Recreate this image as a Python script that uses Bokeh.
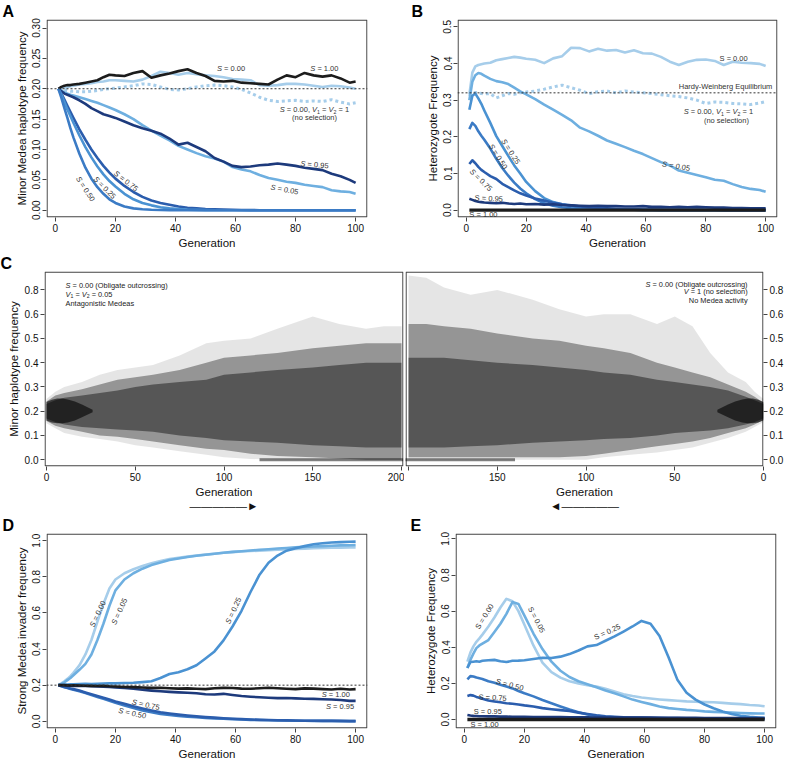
import numpy as np
from bokeh.plotting import figure
from bokeh.layouts import column, row
from bokeh.models import Range1d, FixedTicker, NumeralTickFormatter, Span
from bokeh.core.properties import value
from bokeh.embed import file_html
from bokeh.resources import INLINE

FONT = "Liberation Sans"

# ---------------- data ----------------
GEN = [1, 2, 3, 4, 5, 6, 8, 10, 12, 14,
       16, 18, 20, 23, 26, 29, 32, 35, 38, 41,
       44, 47, 50, 53, 56, 59, 62, 65, 68, 71,
       74, 77, 80, 83, 86, 89, 92, 95, 98, 100]
XTICKS = [0, 20, 40, 60, 80, 100]
REF_A = 0.20
HWE = 0.32
REF_D = 0.20

# Panel A: minor Medea haplotype frequency
A_S000 = [.200, .201, .202, .203, .204, .205, .207, .208, .209, .211,
          .212, .214, .214, .213, .212, .215, .221, .228, .226, .223,
          .226, .224, .222, .221, .219, .216, .215, .214, .206, .205,
          .206, .208, .208, .207, .205, .203, .205, .204, .202, .200]
A_NOSEL = [.200, .199, .198, .197, .196, .196, .195, .195, .196, .197,
           .199, .200, .201, .203, .205, .208, .207, .203, .199, .198,
           .200, .203, .205, .206, .205, .203, .199, .193, .186, .181,
           .179, .180, .181, .179, .180, .179, .182, .178, .175, .177]
A_S005 = [.200, .197, .194, .192, .190, .189, .186, .183, .180, .177,
          .173, .169, .165, .158, .150, .140, .131, .123, .115, .106,
          .100, .094, .089, .085, .080, .071, .067, .064, .058, .053,
          .050, .047, .045, .042, .040, .038, .033, .031, .030, .027]
A_S025 = [.200, .190, .178, .166, .155, .144, .123, .104, .087, .072,
          .059, .048, .039, .027, .018, .012, .008, .005, .003, .002,
          .001, .0005, .0002, 0, 0, 0, 0, 0, 0, 0,
          0, 0, 0, 0, 0, 0, 0, 0, 0, 0]
A_S050 = [.200, .185, .168, .152, .135, .120, .093, .070, .052, .038,
          .027, .018, .012, .006, .003, .0015, .0007, .0003, .0001, 0,
          0, 0, 0, 0, 0, 0, 0, 0, 0, 0,
          0, 0, 0, 0, 0, 0, 0, 0, 0, 0]
A_S075 = [.200, .192, .182, .172, .162, .152, .133, .116, .100, .086,
          .073, .062, .052, .040, .030, .022, .016, .012, .009, .006,
          .004, .003, .002, .0015, .001, .0007, .0004, .0002, 0, 0,
          0, 0, 0, 0, 0, 0, 0, 0, 0, 0]
A_S095 = [.200, .196, .192, .190, .188, .186, .181, .175, .168, .163,
          .158, .155, .152, .146, .140, .135, .131, .126, .118, .108,
          .111, .104, .097, .086, .080, .073, .071, .072, .074, .075,
          .077, .075, .073, .070, .068, .066, .060, .056, .050, .045]
A_S100 = [.200, .203, .205, .206, .206, .207, .208, .210, .212, .214,
          .219, .223, .222, .221, .226, .229, .218, .222, .225, .229,
          .232, .226, .221, .213, .212, .213, .210, .209, .208, .207,
          .215, .222, .219, .226, .222, .220, .222, .217, .210, .212]

# Panel B: heterozygote frequency
B_S000 = [.315, .375, .392, .396, .398, .400, .402, .409, .412, .415,
          .418, .416, .413, .410, .401, .414, .420, .443, .442, .433,
          .440, .435, .437, .430, .436, .428, .427, .418, .405, .396,
          .405, .410, .411, .407, .396, .405, .402, .401, .399, .393]
B_NOSEL = [.310, .318, .321, .320, .318, .317, .318, .306, .312, .318,
           .316, .320, .322, .325, .330, .336, .341, .334, .327, .318,
           .323, .325, .320, .325, .322, .320, .318, .315, .312, .310,
           .306, .300, .291, .295, .294, .291, .290, .288, .292, .296]
B_S005 = [.300, .350, .368, .374, .372, .367, .358, .352, .349, .344,
          .334, .324, .316, .303, .288, .274, .260, .245, .225, .215,
          .203, .190, .181, .172, .162, .153, .142, .131, .122, .108,
          .102, .096, .090, .083, .080, .071, .063, .058, .055, .050]
B_S025 = [.274, .312, .318, .305, .290, .272, .238, .202, .175, .148,
          .122, .100, .077, .052, .033, .022, .016, .011, .008, .006,
          .004, .003, .002, .002, .001, .001, .001, 0, 0, 0,
          0, 0, 0, 0, 0, 0, 0, 0, 0, 0]
B_S050 = [.221, .238, .230, .215, .203, .192, .168, .140, .115, .094,
          .075, .059, .046, .030, .019, .012, .008, .005, .004, .003,
          .002, .002, .001, .001, .001, 0, 0, 0, 0, 0,
          0, 0, 0, 0, 0, 0, 0, 0, 0, 0]
B_S075 = [.126, .136, .128, .118, .110, .104, .093, .085, .072, .063,
          .054, .046, .040, .032, .026, .020, .016, .013, .010, .008,
          .006, .005, .004, .003, .003, .002, .002, .002, .001, .001,
          .001, .001, .001, .001, 0, 0, 0, 0, 0, 0]
B_S095 = [.031, .028, .025, .023, .022, .021, .020, .019, .020, .018,
          .017, .018, .016, .017, .015, .016, .014, .013, .012, .011,
          .012, .011, .011, .010, .010, .011, .009, .009, .008, .009,
          .008, .009, .008, .007, .007, .006, .006, .005, .005, .005]
B_S100 = [0, 0, 0, 0, 0, 0, 0, 0, 0, 0,
          0, 0, 0, 0, 0, 0, 0, 0, 0, 0,
          0, 0, 0, 0, 0, 0, 0, 0, 0, 0,
          0, 0, 0, 0, 0, 0, 0, 0, 0, 0]

# Panel C: envelopes of the simulated trajectory clouds
C_X = [0, 5, 10, 20, 30, 40, 50, 60, 75, 90, 100, 115, 130, 150, 165, 180, 190, 200]
CL_OUT_LO = [.15, .13, .11, .095, .085, .075, .06, .05, .035, .02, .01, .003, 0, 0, 0, 0, 0, 0]
CL_OUT_HI = [.25, .28, .30, .32, .35, .37, .38, .39, .43, .48, .49, .50, .54, .59, .56, .54, .55, .55]
CL_MAIN_LO = [.16, .14, .13, .115, .10, .095, .085, .075, .06, .045, .04, .025, .015, .01, .005, 0, 0, 0]
CL_MAIN_HI = [.24, .265, .275, .29, .31, .33, .34, .35, .37, .40, .42, .43, .44, .46, .47, .48, .48, .48]
CL_CORE_LO = [.17, .155, .145, .135, .13, .125, .12, .115, .10, .09, .08, .075, .07, .06, .055, .05, .05, .05]
CL_CORE_HI = [.23, .245, .255, .265, .275, .285, .30, .31, .32, .33, .35, .36, .37, .38, .39, .40, .40, .40]
CR_OUT_LO = [.155, .135, .115, .09, .07, .05, .04, .03, .02, .01, 0, 0, 0, 0, 0, 0, 0, 0]
CR_OUT_HI = [.25, .28, .32, .36, .44, .55, .59, .56, .60, .60, .59, .62, .66, .70, .68, .71, .75, .76]
CR_MAIN_LO = [.165, .145, .13, .11, .09, .075, .065, .055, .04, .025, .015, .01, .01, .01, .01, .01, .01, .01]
CR_MAIN_HI = [.235, .26, .28, .31, .34, .36, .38, .40, .44, .46, .47, .49, .50, .52, .54, .55, .56, .56]
CR_CORE_LO = [.17, .155, .145, .13, .12, .115, .11, .10, .09, .085, .08, .075, .07, .06, .055, .05, .05, .05]
CR_CORE_HI = [.23, .245, .26, .285, .30, .31, .32, .33, .35, .36, .37, .38, .39, .40, .41, .42, .42, .42]
C_BLOB_X = [0, 3, 6, 9, 12, 16, 20, 26]
C_BLOB_LO = [.162, .153, .150, .150, .153, .162, .175, .196]
C_BLOB_HI = [.238, .247, .252, .252, .248, .240, .228, .206]
CL_ZERO_X = [120, 201]
CR_ZERO_X = [140, 202]
C_ZERO_Y = [0.0, 0.0]
C_YTICKS = [0.0, 0.1, 0.2, 0.3, 0.4, 0.5, 0.6, 0.7]
C_XTICKS = [0, 50, 100, 150, 200]

# Panel D: strong Medea invader frequency
D_S000 = [.200, .210, .222, .235, .250, .268, .310, .370, .450, .552,
          .650, .735, .785, .820, .842, .860, .875, .888, .898, .905,
          .912, .918, .923, .928, .933, .937, .940, .943, .945, .948,
          .950, .952, .955, .956, .958, .960, .962, .962, .963, .963]
D_S005 = [.200, .207, .216, .228, .240, .255, .285, .318, .370, .450,
          .540, .640, .725, .785, .820, .845, .865, .880, .893, .902,
          .910, .917, .922, .928, .933, .938, .942, .946, .950, .953,
          .957, .960, .963, .966, .968, .970, .972, .974, .975, .976]
D_S025 = [.200, .202, .203, .204, .205, .205, .206, .207, .206, .208,
          .209, .210, .210, .212, .213, .217, .222, .240, .262, .272,
          .288, .310, .348, .387, .448, .525, .612, .716, .812, .878,
          .918, .945, .958, .970, .980, .986, .990, .992, .994, .995]
D_S050 = [.200, .194, .189, .184, .179, .175, .166, .156, .145, .135,
          .124, .113, .102, .088, .073, .060, .050, .041, .035, .030,
          .025, .022, .019, .016, .014, .012, .010, .008, .007, .006,
          .005, .004, .003, .003, .002, .002, .002, .001, .001, .001]
D_S075 = [.200, .195, .190, .186, .182, .178, .170, .160, .150, .140,
          .130, .120, .110, .097, .083, .071, .060, .050, .043, .037,
          .032, .027, .023, .020, .017, .014, .012, .010, .008, .007,
          .006, .005, .004, .003, .003, .002, .002, .002, .001, .001]
D_S095 = [.200, .199, .198, .197, .197, .196, .195, .195, .194, .193,
          .192, .190, .188, .184, .180, .175, .170, .166, .163, .160,
          .158, .155, .150, .148, .152, .146, .140, .136, .133, .130,
          .128, .129, .127, .125, .124, .122, .121, .118, .113, .113]
D_S100 = [.200, .201, .200, .199, .198, .199, .198, .197, .196, .195,
          .196, .194, .193, .190, .189, .187, .185, .186, .183, .181,
          .182, .180, .178, .183, .185, .184, .181, .180, .183, .186,
          .183, .180, .178, .182, .181, .178, .176, .180, .176, .178]

# Panel E: heterozygote frequency
E_S000 = [.320, .370, .405, .430, .449, .470, .515, .565, .620, .668,
          .655, .600, .525, .410, .315, .262, .232, .212, .200, .190,
          .182, .170, .155, .140, .130, .122, .116, .111, .107, .104,
          .100, .098, .096, .095, .092, .088, .085, .080, .077, .073]
E_S005 = [.285, .330, .365, .395, .410, .420, .440, .485, .530, .585,
          .650, .640, .575, .476, .390, .320, .270, .235, .212, .195,
          .178, .160, .145, .128, .110, .097, .085, .072, .063, .058,
          .053, .050, .045, .042, .040, .038, .036, .034, .033, .033]
E_S025 = [.285, .318, .320, .322, .320, .325, .328, .330, .322, .318,
          .325, .326, .328, .335, .342, .340, .348, .362, .382, .405,
          .412, .436, .460, .487, .515, .546, .530, .462, .345, .218,
          .148, .110, .083, .062, .044, .030, .021, .015, .011, .009]
E_S050 = [.222, .240, .238, .232, .228, .224, .212, .203, .192, .182,
          .172, .158, .145, .128, .108, .090, .072, .055, .040, .028,
          .020, .015, .012, .010, .008, .007, .006, .005, .005, .004,
          .004, .004, .003, .003, .003, .003, .002, .002, .002, .002]
E_S075 = [.130, .135, .132, .125, .120, .115, .105, .100, .095, .090,
          .087, .083, .078, .072, .063, .057, .052, .047, .038, .030,
          .023, .018, .015, .012, .011, .010, .009, .009, .008, .008,
          .007, .007, .007, .006, .006, .006, .006, .005, .005, .005]
E_S095 = [.025, .022, .020, .019, .018, .018, .017, .017, .016, .016,
          .015, .015, .015, .014, .014, .013, .013, .012, .012, .012,
          .011, .011, .011, .010, .010, .010, .010, .009, .009, .009,
          .009, .009, .008, .008, .008, .008, .008, .008, .008, .008]
E_S100 = [0, 0, 0, 0, 0, 0, 0, 0, 0, 0,
          0, 0, 0, 0, 0, 0, 0, 0, 0, 0,
          0, 0, 0, 0, 0, 0, 0, 0, 0, 0,
          0, 0, 0, 0, 0, 0, 0, 0, 0, 0]

# ---------------- styles ----------------
COL = {"0.00": "#a6cdea", "0.05": "#6eafe0", "0.25": "#4a92d2", "0.50": "#3b7bc5",
       "0.75": "#2b5dad", "0.95": "#1d3a7c", "1.00": "#1c1c1c"}
LW = 2.6
TXT = "#333333"
FRAME = "#444444"

CW = {' ': .278, '=': .584, '.': .278, ',': .278, '(': .333, ')': .333, '-': .333,
      'S': .667, 'V': .667, 'A': .667, 'M': .833, 'N': .722, 'O': .778, 'H': .722,
      'W': .944, 'E': .667,
      'a': .556, 'b': .556, 'c': .5, 'd': .556, 'e': .556, 'f': .278, 'g': .556,
      'h': .556, 'i': .222, 'j': .222, 'k': .5, 'l': .222, 'm': .833, 'n': .556,
      'o': .556, 'p': .556, 'q': .556, 'r': .333, 's': .5, 't': .278, 'u': .556,
      'v': .5, 'w': .722, 'x': .5, 'y': .5, 'z': .5}


def tw(s, size):
    return sum(CW.get(c, 0.556) for c in s) * size


def rich(p, x, y, pieces, size=7.5, angle=0.0, align="center", color=TXT):
    a = np.deg2rad(angle)
    ca, sa = np.cos(a), np.sin(a)
    widths = [tw(t, size * sc) for (t, st, sc, dy) in pieces]
    W = sum(widths)
    d = {"center": -W / 2, "left": 0.0, "right": -W}[align]
    for (t, st, sc, dy), w in zip(pieces, widths):
        fs = size * sc
        core = t.strip()
        if core:
            lead = tw(t[: len(t) - len(t.lstrip())], fs)
            c = d + lead + tw(core, fs) / 2
            ox = c * ca + dy * sa
            oy = -c * sa + dy * ca
            p.text(x=[x], y=[y], text=[core], angle=a, x_offset=ox, y_offset=oy,
                   text_align="center", text_baseline="middle", text_font=value(FONT),
                   text_font_style=st, text_font_size=f"{fs:.2f}px", text_color=color)
        d += w


def slab(p, x, y, rest, angle=0.0, size=7.5):
    rich(p, x, y, [("S", "italic", 1, 0), (" = " + rest, "normal", 1, 0)], size=size, angle=angle)


def nosel(p, x, y, x2, y2, size=7.5):
    rich(p, x, y, [("S", "italic", 1, 0), (" = 0.00, ", "normal", 1, 0), ("V", "italic", 1, 0),
                   ("1", "normal", 0.7, 2), (" = ", "normal", 1, 0), ("V", "italic", 1, 0),
                   ("2", "normal", 0.7, 2), (" = 1", "normal", 1, 0)], size=size)
    rich(p, x2, y2, [("(no selection)", "normal", 1, 0)], size=size)


def fsize(spec):
    return spec["w"] - spec["ml"] - spec["mr"], spec["h"] - spec["mt"] - spec["mb"]


def px2data(spec, cx, cy):
    fw, fh = fsize(spec)
    x0, x1 = spec["xr"]
    y0, y1 = spec["yr"]
    return x0 + (cx - spec["ml"]) / fw * (x1 - x0), y1 - (cy - spec["mt"]) / fh * (y1 - y0)


def make_fig(spec, letter, lx, xticks, yticks, yfmt, xlabel, ylabel, yloc="left", yvert=True):
    p = figure(width=spec["w"], height=spec["h"], x_range=Range1d(*spec["xr"]),
               y_range=Range1d(*spec["yr"]), output_backend="svg", toolbar_location=None,
               y_axis_location=yloc, min_border_left=spec["ml"], min_border_right=spec["mr"],
               min_border_top=spec["mt"], min_border_bottom=spec["mb"])
    p.xgrid.visible = False
    p.ygrid.visible = False
    p.outline_line_color = None
    p.background_fill_color = "white"
    p.border_fill_color = "white"
    if letter:
        p.title.text = letter
        p.title.align = "left"
        p.title.offset = lx - spec["ml"]
        p.title.standoff = 0
        p.title.text_font = FONT
        p.title.text_font_size = "16px"
        p.title.text_font_style = "bold"
        p.title.text_color = "black"
    p.xaxis.ticker = FixedTicker(ticks=xticks, minor_ticks=[])
    p.yaxis.ticker = FixedTicker(ticks=yticks, minor_ticks=[])
    p.xaxis.formatter = NumeralTickFormatter(format="0")
    p.yaxis.formatter = NumeralTickFormatter(format=yfmt)
    for ax in list(p.xaxis) + list(p.yaxis):
        ax.axis_line_color = None
        ax.major_tick_out = 4
        ax.major_tick_in = 0
        ax.minor_tick_line_color = None
        ax.major_tick_line_color = FRAME
        ax.major_label_text_font = FONT
        ax.major_label_text_font_size = "10px"
        ax.major_label_text_color = "#111111"
        ax.major_label_standoff = 2
        ax.axis_label_text_font = FONT
        ax.axis_label_text_font_size = "11.5px"
        ax.axis_label_text_font_style = "normal"
        ax.axis_label_text_color = "#111111"
        ax.axis_label_standoff = 2
    if xlabel:
        p.xaxis.axis_label = xlabel
    if ylabel:
        p.yaxis.axis_label = ylabel
    if yvert:
        p.yaxis.major_label_orientation = "vertical"
    # plot box, drawn half a pixel inside the frame edges
    fw, fh = fsize(spec)
    x0, x1 = spec["xr"]
    y0, y1 = spec["yr"]
    dx = (x1 - x0) / fw * 0.6
    dy = (y1 - y0) / fh * 0.6
    p.line([x0 + dx, x1 - dx, x1 - dx, x0 + dx, x0 + dx],
           [y0 + dy, y0 + dy, y1 - dy, y1 - dy, y0 + dy],
           line_color=FRAME, line_width=1.2)
    return p


def ln(p, y, key, dash="solid", width=LW):
    p.line(GEN, y, line_color=COL[key], line_width=width, line_dash=dash, line_join="round")


XR = (-2.96, 103.96)
SA = dict(w=390, h=252, ml=46, mr=23, mt=18, mb=35, xr=XR, yr=(-0.012, 0.314))
SB = dict(w=396, h=252, ml=67, mr=9, mt=18, mb=35, xr=XR, yr=(-0.02, 0.52))
SCL = dict(w=404, h=262, ml=44, mr=1, mt=18, mb=46, xr=(-1.1, 201.1), yr=(-0.028, 0.776))
SCR = dict(w=382, h=262, ml=1, mr=20, mt=18, mb=46, xr=(201.7, 0.0), yr=(-0.028, 0.776))
SD = dict(w=390, h=250, ml=46, mr=23, mt=18, mb=36, xr=XR, yr=(-0.04, 1.04))
SE = dict(w=396, h=250, ml=65, mr=10, mt=18, mb=36, xr=XR, yr=(-0.05, 1.03))

# ---------------- Panel A ----------------
pA = make_fig(SA, "A", 2, XTICKS, [0.0, 0.05, 0.10, 0.15, 0.20, 0.25, 0.30], "0.00",
              "Generation", "Minor Medea haplotype frequency")
pA.add_layout(Span(location=REF_A, dimension="width", line_color="#333333", line_dash="2 2", line_width=1))
ln(pA, A_NOSEL, "0.00", dash="3 3", width=3)
ln(pA, A_S000, "0.00")
ln(pA, A_S005, "0.05")
ln(pA, A_S095, "0.95")
ln(pA, A_S100, "1.00")
ln(pA, A_S075, "0.75")
ln(pA, A_S025, "0.25")
ln(pA, A_S050, "0.50")
slab(pA, 58.5, 0.234, "0.00")
slab(pA, 89.6, 0.233, "1.00")
nosel(pA, 86.3, 0.165, 86.3, 0.152)
slab(pA, 86.3, 0.075, "0.95", -5)
slab(pA, 76.3, 0.034, "0.05", -10)
slab(pA, 23.5, 0.048, "0.75", -38)
slab(pA, 16.4, 0.037, "0.25", -45)
slab(pA, 10.0, 0.035, "0.50", -57)

# ---------------- Panel B ----------------
pB = make_fig(SB, "B", 21, XTICKS, [0.0, 0.1, 0.2, 0.3, 0.4, 0.5], "0.0",
              "Generation", "Heterozygote Frequency")
pB.add_layout(Span(location=HWE, dimension="width", line_color="#333333", line_dash="2 2", line_width=1))
ln(pB, B_NOSEL, "0.00", dash="3 3", width=3)
ln(pB, B_S000, "0.00")
ln(pB, B_S005, "0.05")
ln(pB, B_S025, "0.25")
ln(pB, B_S050, "0.50")
ln(pB, B_S075, "0.75")
ln(pB, B_S095, "0.95")
ln(pB, B_S100, "1.00", width=3.2)
rich(pB, 89.3, 0.415, [("S = 0.00", "normal", 1, 0)])
rich(pB, 86.6, 0.338, [("Hardy-Weinberg Equilibrium", "normal", 1, 0)])
nosel(pB, 84.2, 0.269, 86.9, 0.245)
slab(pB, 70.1, 0.12, "0.05", -10)
slab(pB, 14.8, 0.160, "0.25", -57)
slab(pB, 10.6, 0.146, "0.50", -58)
slab(pB, 4.9, 0.082, "0.75", -45)
rich(pB, 7.5, 0.032, [("S = 0.95", "normal", 1, 0)], angle=-3)
rich(pB, 5.7, -0.013, [("S = 1.00", "normal", 1, 0)])


# ---------------- Panel C ----------------
def cloud(p, lo_o, hi_o, lo_m, hi_m, lo_c, hi_c, zx):
    p.varea(x=C_X, y1=lo_o, y2=hi_o, fill_color="black", fill_alpha=0.10)
    p.varea(x=C_X, y1=lo_m, y2=hi_m, fill_color="black", fill_alpha=0.35)
    p.varea(x=C_X, y1=lo_c, y2=hi_c, fill_color="black", fill_alpha=0.42)
    p.varea(x=C_BLOB_X, y1=C_BLOB_LO, y2=C_BLOB_HI, fill_color="black", fill_alpha=0.6)
    p.line(zx, C_ZERO_Y, line_color="black", line_alpha=0.5, line_width=3)


ARROW_R = "\u2014\u2014\u2014\u2014\u2014\u25BA"
ARROW_L = "\u25C4\u2014\u2014\u2014\u2014\u2014"

pCL = make_fig(SCL, "C", 0, C_XTICKS, C_YTICKS, "0.0", "Generation\n" + ARROW_R,
               "Minor haplotype frequency", yvert=False)
pCL.yaxis.major_label_overrides = {0.7: "0.8"}
cloud(pCL, CL_OUT_LO, CL_OUT_HI, CL_MAIN_LO, CL_MAIN_HI, CL_CORE_LO, CL_CORE_HI, CL_ZERO_X)
for pcs, cy in [
        ([("S", "italic", 1, 0), (" = 0.00 (Obligate outcrossing)", "normal", 1, 0)], 32.3),
        ([("V", "italic", 1, 0), ("1", "normal", 0.7, 2), (" = ", "normal", 1, 0), ("V", "italic", 1, 0),
          ("2", "normal", 0.7, 2), (" = 0.05", "normal", 1, 0)], 41.3),
        ([("Antagonistic Medeas", "normal", 1, 0)], 50.3)]:
    x, y = px2data(SCL, 65, cy)
    rich(pCL, x, y, pcs, size=7.4, align="left", color="#222222")

pCR = make_fig(SCR, None, 0, C_XTICKS, C_YTICKS, "0.0", "Generation\n" + ARROW_L, None,
               yloc="right", yvert=False)
pCR.yaxis.major_label_overrides = {0.7: "0.8"}
pCR.xaxis.major_label_overrides = {200: ""}
cloud(pCR, CR_OUT_LO, CR_OUT_HI, CR_MAIN_LO, CR_MAIN_HI, CR_CORE_LO, CR_CORE_HI, CR_ZERO_X)
for pcs, cy in [
        ([("S", "italic", 1, 0), (" = 0.00 (Obligate outcrossing)", "normal", 1, 0)], 30.7),
        ([("V", "italic", 1, 0), (" = 1 (no selection)", "normal", 1, 0)], 38.7),
        ([("No Medea activity", "normal", 1, 0)], 47.3)]:
    x, y = px2data(SCR, 346, cy)
    rich(pCR, x, y, pcs, size=7.4, align="right", color="#222222")

# ---------------- Panel D ----------------
pD = make_fig(SD, "D", 2, XTICKS, [0.0, 0.2, 0.4, 0.6, 0.8, 1.0], "0.0",
              "Generation", "Strong Medea invader frequency")
pD.add_layout(Span(location=REF_D, dimension="width", line_color="#333333", line_dash="2 2", line_width=1))
ln(pD, D_S000, "0.00")
ln(pD, D_S005, "0.05")
ln(pD, D_S025, "0.25")
ln(pD, D_S050, "0.50")
ln(pD, D_S075, "0.75")
ln(pD, D_S095, "0.95")
ln(pD, D_S100, "1.00")
slab(pD, 14.1, 0.595, "0.00", 65)
slab(pD, 21.3, 0.609, "0.05", 65)
slab(pD, 59.3, 0.613, "0.25", 65)
slab(pD, 93.4, 0.147, "1.00")
slab(pD, 94.8, 0.080, "0.95")
slab(pD, 30.1, 0.091, "0.75", -12)
slab(pD, 25.6, 0.044, "0.50", -12)

# ---------------- Panel E ----------------
pE = make_fig(SE, "E", 20, XTICKS, [0.0, 0.2, 0.4, 0.6, 0.8, 1.0], "0.0",
              "Generation", "Heterozygote Frequency")
ln(pE, E_S000, "0.00")
ln(pE, E_S005, "0.05")
ln(pE, E_S025, "0.25")
ln(pE, E_S050, "0.50")
ln(pE, E_S075, "0.75")
ln(pE, E_S095, "0.95")
ln(pE, E_S100, "1.00", width=3.4)
rich(pE, 6.7, 0.57, [("S = 0.00", "normal", 1, 0)], angle=58)
rich(pE, 24.0, 0.552, [("S = 0.05", "normal", 1, 0)], angle=-62)
rich(pE, 47.6, 0.485, [("S = 0.25", "normal", 1, 0)], angle=25)
rich(pE, 15.1, 0.192, [("S = 0.50", "normal", 1, 0)], angle=-15)
rich(pE, 9.4, 0.121, [("S = 0.75", "normal", 1, 0)], angle=-3)
rich(pE, 7.8, 0.045, [("S = 0.95", "normal", 1, 0)])
rich(pE, 6.7, -0.027, [("S = 1.00", "normal", 1, 0)])

layout = column(row(pA, pB), row(pCL, pCR), row(pD, pE))
open("out.html", "w").write(file_html(layout, INLINE, title="Medea simulations"))
